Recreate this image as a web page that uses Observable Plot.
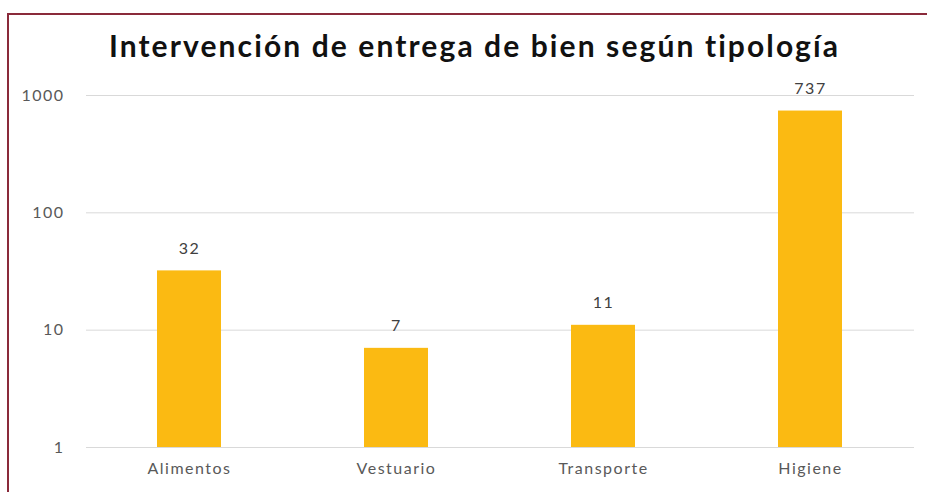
<!DOCTYPE html>
<html><head><meta charset="utf-8">
<script src="https://cdn.jsdelivr.net/npm/d3@7"></script>
<script src="https://cdn.jsdelivr.net/npm/@observablehq/plot@0.6"></script>
<style>
html,body{margin:0;padding:0;background:#fff;overflow:hidden;width:927px;height:492px}
#wrap{position:relative;width:927px;height:492px;overflow:hidden}
#frame{position:absolute;left:7px;top:13px;width:1000px;height:1000px;border-left:2px solid #8a2a3a;border-top:2px solid #8a2a3a;pointer-events:none}
.lbl text{letter-spacing:1.5px}
.ttl text{letter-spacing:2.1px}
</style></head><body><div id="wrap"><div id="chart"></div><div id="frame"></div></div>
<script>
const categories = ["Alimentos", "Vestuario", "Transporte", "Higiene"];
const values = [32, 7, 11, 737];
const yTicks = [1, 10, 100, 1000];
const title = "Intervención de entrega de bien según tipología";

const data = categories.map((c, i) => ({category: c, value: values[i]}));

const chart = Plot.plot({
  width: 927, height: 492,
  marginTop: 95, marginBottom: 45, marginLeft: 86, marginRight: 13,
  style: {fontFamily: "Lato, sans-serif", fontSize: "16px", color: "#595959", background: "transparent"},
  x: {domain: categories, paddingInner: 0.69, paddingOuter: 0.345, label: null},
  y: {type: "log", domain: [1, 1000], label: null},
  marks: [
    Plot.ruleY(yTicks, {stroke: "#d9d9d9", strokeWidth: 1}),
    Plot.barY(data, {x: "category", y1: 1, y2: "value", fill: "#FBBA12"}),
    Plot.text(data, {x: "category", y: "value", text: d => String(d.value), dy: -22, fill: "#404040", fontSize: 16, className: "lbl"}),
    Plot.axisX({tickSize: 0, tickPadding: 15, fontSize: 16, fill: "#595959", className: "lbl"}),
    Plot.axisY({ticks: yTicks, tickFormat: d => String(d), tickSize: 0, tickPadding: 22, fontSize: 16, fill: "#595959", className: "lbl"}),
    Plot.text([title], {frameAnchor: "top", lineAnchor: "middle", dx: -26, dy: -48, text: d => d, fontSize: 30, fontWeight: "bold", fill: "#111", fontFamily: "Lato, sans-serif", className: "ttl"})
  ]
});
document.getElementById("chart").appendChild(chart);
</script></body></html>
